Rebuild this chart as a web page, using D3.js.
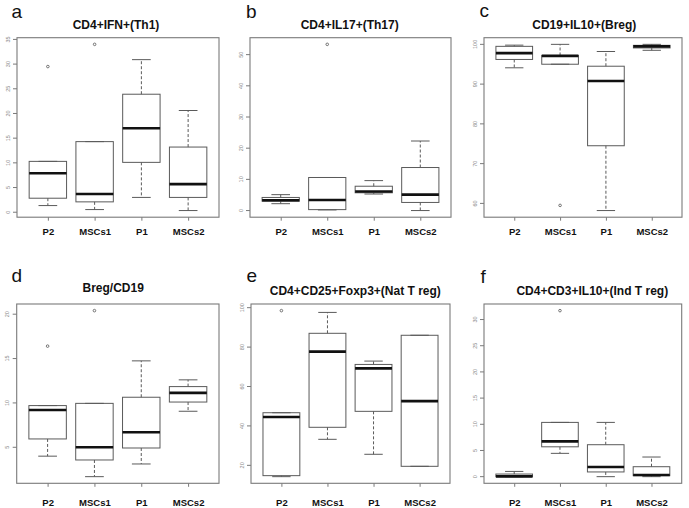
<!DOCTYPE html>
<html><head><meta charset="utf-8">
<script src="https://cdn.jsdelivr.net/npm/d3@7"></script>
<style>
html,body{margin:0;padding:0;background:#fff;}
svg{display:block;font-family:"Liberation Sans",Arial,sans-serif;}
</style></head>
<body>
<svg id="chart" width="689" height="508"></svg>
<script>
// ---- data ----
const categories = ["P2", "MSCs1", "P1", "MSCs2"];
const panelLetters = ["a", "b", "c", "d", "e", "f"];
const panelTitles = ["CD4+IFN+(Th1)", "CD4+IL17+(Th17)", "CD19+IL10+(Breg)",
                     "Breg/CD19", "CD4+CD25+Foxp3+(Nat T reg)", "CD4+CD3+IL10+(Ind T reg)"];

// stats per category: [lower whisker, Q1, median, Q3, upper whisker]
const statsA = [[1.35, 2.84, 7.9, 10.3, 10.3], [0.54, 2.1, 3.7, 14.3, 14.3], [3.0, 10.1, 17.0, 23.9, 30.9], [0.34, 3.0, 5.7, 13.2, 20.6]];
const outliersA = [[29.5], [34.0], [], []];
const yTicksA = [0, 5, 10, 15, 20, 25, 30, 35];

const statsB = [[2.2, 3.0, 3.3, 4.2, 5.1], [0.2, 0.3, 3.4, 10.6, 10.6], [5.3, 5.7, 6.1, 7.8, 9.6], [0.0, 2.6, 5.1, 13.8, 22.3]];
const outliersB = [[], [53.3], [], []];
const yTicksB = [0, 10, 20, 30, 40, 50];

const statsC = [[94.1, 96.2, 97.8, 99.5, 99.8], [95.0, 95.0, 97.1, 97.2, 100.0], [58.2, 74.5, 90.8, 94.5, 98.2], [98.5, 99.1, 99.5, 99.75, 100.0]];
const outliersC = [[], [59.5], [], []];
const yTicksC = [60, 70, 80, 90, 100];

const statsD = [[4.0, 5.94, 9.2, 9.7, 9.7], [1.69, 3.57, 5.0, 9.95, 9.95], [3.12, 4.92, 6.69, 10.64, 14.74], [9.06, 10.1, 11.13, 11.84, 12.6]];
const outliersD = [[16.4], [20.4], [], []];
const yTicksD = [5, 10, 15, 20];

const statsE = [[14.25, 14.76, 44.5, 46.7, 46.7], [33.2, 39.3, 77.7, 87.0, 97.6], [25.6, 47.4, 69.2, 71.2, 72.9], [19.5, 19.5, 52.6, 86.0, 86.0]];
const outliersE = [[98.5], [], [], []];
const yTicksE = [20, 40, 60, 80, 100];

const statsF = [[0.0, 0.0, 0.06, 0.5, 1.0], [4.45, 5.7, 6.74, 10.36, 10.36], [0.0, 0.9, 1.84, 6.1, 10.36], [0.0, 0.19, 0.32, 1.9, 3.75]];
const outliersF = [[], [31.7], [], []];
const yTicksF = [0, 5, 10, 15, 20, 25, 30];

// ---- layout ----
const layouts = [
  {L: 17,  R: 219,   T: 37.7, B: 217.2, pad: 7.6,  titleX: 116,   titleY: 29,    letterX: 11.5,  letterY: 17.7},
  {L: 250, R: 451,   T: 37.7, B: 217.2, pad: 7.6,  titleX: 349.7, titleY: 29,    letterX: 246,   letterY: 18.2},
  {L: 484, R: 682,   T: 37.7, B: 217.2, pad: 7.6,  titleX: 584.3, titleY: 29,    letterX: 479.5, letterY: 17.4},
  {L: 16.7,R: 219,   T: 304,  B: 483.3, pad: 12.5, titleX: 113.2, titleY: 292,   letterX: 11.5,  letterY: 282.3},
  {L: 251, R: 450,   T: 304,  B: 483.3, pad: 12.5, titleX: 355.3, titleY: 294.5, letterX: 246.5, letterY: 282.3},
  {L: 484, R: 681.7, T: 304,  B: 483.3, pad: 12.5, titleX: 592.3, titleY: 294.5, letterX: 480.5, letterY: 283.3}
];
const allStats = [statsA, statsB, statsC, statsD, statsE, statsF];
const allOutliers = [outliersA, outliersB, outliersC, outliersD, outliersE, outliersF];
const allTicks = [yTicksA, yTicksB, yTicksC, yTicksD, yTicksE, yTicksF];

const svg = d3.select("#chart");
const lineCol = "#5a5a5a";
const frameCol = "#7a7a7a";

layouts.forEach((lay, i) => {
  const stats = allStats[i], outs = allOutliers[i], ticks = allTicks[i];
  const g = svg.append("g");
  const vals = stats.flat().concat(outs.flat());
  const mn = d3.min(vals), mx = d3.max(vals), r = mx - mn;
  const y = d3.scaleLinear().domain([mn - 0.04 * r, mx + 0.04 * r]).range([lay.B, lay.T]);
  const x = d3.scaleLinear().domain([0.34, 4.66]).range([lay.L, lay.R]);
  const unit = x(1) - x(0);
  const hw = 0.4 * unit, cw = 0.2 * unit;

  // letter
  g.append("text").attr("x", lay.letterX).attr("y", lay.letterY)
    .attr("font-size", 19).attr("fill", "#111").text(panelLetters[i]);
  // title
  g.append("text").attr("x", lay.titleX).attr("y", lay.titleY)
    .attr("text-anchor", "middle").attr("font-size", 12).attr("font-weight", "bold")
    .attr("fill", "#111").text(panelTitles[i]);

  // y axis
  const yAxis = d3.axisLeft(y).tickValues(ticks).tickSize(4).tickPadding(0).tickFormat(d3.format("d"));
  const ya = g.append("g").attr("transform", `translate(${lay.L},0)`).call(yAxis);
  ya.select(".domain").remove();
  ya.selectAll(".tick").attr("transform", "translate(0,0)");
  ya.selectAll(".tick line").attr("stroke", frameCol).attr("transform", d => `translate(0,${y(d)})`);
  ya.selectAll(".tick text").attr("fill", "#888").attr("font-size", 5.5)
    .attr("font-family", "'Liberation Sans',Arial,sans-serif")
    .attr("text-anchor", "middle").attr("dy", 0).attr("x", 0).attr("y", 0)
    .attr("dominant-baseline", "central")
    .attr("transform", d => `translate(${-9.5},${y(d)}) rotate(-90)`);

  // x axis
  const xAxis = d3.axisBottom(x).tickValues([1, 2, 3, 4]).tickSize(3.5).tickPadding(lay.pad)
    .tickFormat(d => categories[d - 1]);
  const xa = g.append("g").attr("transform", `translate(0,${lay.B})`).call(xAxis);
  xa.select(".domain").remove();
  xa.selectAll(".tick line").attr("stroke", frameCol);
  xa.selectAll(".tick text").attr("fill", "#111").attr("font-size", 9.5).attr("font-weight", "bold")
    .attr("font-family", "'Liberation Sans',Arial,sans-serif");

  // frame
  g.append("rect").attr("x", lay.L).attr("y", lay.T).attr("width", lay.R - lay.L).attr("height", lay.B - lay.T)
    .attr("fill", "none").attr("stroke", frameCol).attr("stroke-width", 1.1);

  // boxes
  stats.forEach((s, k) => {
    const cx = x(k + 1);
    const [lo, q1, med, q3, hi] = s;
    if (hi > q3) g.append("line").attr("x1", cx).attr("x2", cx).attr("y1", y(q3)).attr("y2", y(hi))
      .attr("stroke", lineCol).attr("stroke-dasharray", "3,2");
    if (lo < q1) g.append("line").attr("x1", cx).attr("x2", cx).attr("y1", y(q1)).attr("y2", y(lo))
      .attr("stroke", lineCol).attr("stroke-dasharray", "3,2");
    [lo, hi].forEach(v => g.append("line").attr("x1", cx - cw).attr("x2", cx + cw)
      .attr("y1", y(v)).attr("y2", y(v)).attr("stroke", lineCol));
    g.append("rect").attr("x", cx - hw).attr("y", y(q3)).attr("width", 2 * hw)
      .attr("height", Math.max(0.01, y(q1) - y(q3))).attr("fill", "none").attr("stroke", lineCol);
    g.append("line").attr("x1", cx - hw).attr("x2", cx + hw).attr("y1", y(med)).attr("y2", y(med))
      .attr("stroke", "#111").attr("stroke-width", 2.6);
    outs[k].forEach(v => g.append("circle").attr("cx", cx).attr("cy", y(v)).attr("r", 1.3)
      .attr("fill", "none").attr("stroke", "#555").attr("stroke-width", 0.8));
  });
});
</script>
</body></html>
